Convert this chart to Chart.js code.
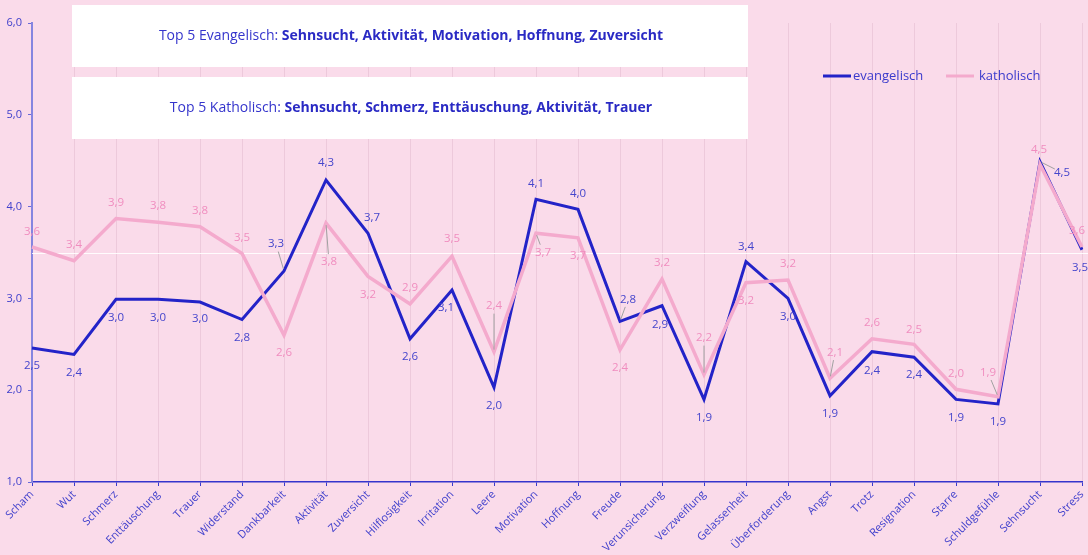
<!DOCTYPE html>
<html><head><meta charset="utf-8">
<script src="https://cdn.jsdelivr.net/npm/chart.js@4/dist/chart.umd.min.js"></script>
<style>html,body{margin:0;padding:0;background:#fadbea;}#wrap{width:1088px;height:555px;}</style>
</head><body><div id="wrap"><canvas id="c" width="1088" height="555"></canvas></div>
<script>
const categories = ["Scham","Wut","Schmerz","Enttäuschung","Trauer","Widerstand","Dankbarkeit","Aktivität","Zuversicht","Hilflosigkeit","Irritation","Leere","Motivation","Hoffnung","Freude","Verunsicherung","Verzweiflung","Gelassenheit","Überforderung","Angst","Trotz","Resignation","Starre","Schuldgefühle","Sehnsucht","Stress"];
const evangelisch = [2.46,2.39,2.99,2.99,2.96,2.77,3.30,4.29,3.71,2.56,3.09,2.03,4.08,3.97,2.75,2.92,1.90,3.40,3.00,1.94,2.42,2.36,1.90,1.85,4.49,3.53];
const katholisch = [3.56,3.41,3.87,3.83,3.78,3.49,2.60,3.82,3.24,2.94,3.46,2.42,3.71,3.66,2.44,3.21,2.17,3.17,3.20,2.13,2.56,2.50,2.01,1.93,4.46,3.56];
const yTicks = [1,2,3,4,5,6];
const seriesNames = ["evangelisch","katholisch"];
const titleLines = [["Top 5 Evangelisch: ","Sehnsucht, Aktivität, Motivation, Hoffnung, Zuversicht"],["Top 5 Katholisch: ","Sehnsucht, Schmerz, Enttäuschung, Aktivität, Trauer"]];

// label placement offsets (dx, dy, leader)
const evLabelPos = [[0,18],[0,18],[0,18],[0,18],[0,17],[0,18],[-8,-27,1],[0,-17],[4,-16],[0,18],[-6,18],[0,18],[0,-16],[0,-16],[8,-22,1],[-2,19],[0,18],[0,-15],[0,18],[0,18],[0,19],[0,18],[0,18],[0,18],[22,11,1],[-2,18]];
const kaLabelPos = [[0,-15],[0,-16],[0,-16],[0,-16],[0,-16],[0,-16],[0,18],[3,39,1],[0,18],[0,-16],[0,-17],[0,-46,1],[7,19,1],[0,18],[0,18],[0,-16],[0,-37,1],[0,18],[0,-16],[5,-26,1],[0,-16],[0,-15],[0,-16],[-10,-24,1],[-1,-15],[-5,-16]];

const BLUE = '#2323c8';
const PINK = '#f4aacd';
const fmt = v => (Math.round(v*10)/10).toFixed(1).replace('.', ',');

const overlay = {
  id:'overlay',
  beforeDatasetsDraw(chart){
    const {ctx, chartArea:a, scales:{y}} = chart;
    ctx.save();
    ctx.strokeStyle = 'rgba(255,255,255,0.9)';
    ctx.lineWidth = 1;
    const yy = Math.round(y.getPixelForValue(3.5))+0.5;
    ctx.beginPath(); ctx.moveTo(a.left, yy); ctx.lineTo(1088, yy); ctx.stroke();
    ctx.restore();
  },
  afterDatasetsDraw(chart){
    const {ctx} = chart;
    ctx.save();
    const boxes = [[72,5,676,62],[72,77,676,62]];
    boxes.forEach((b,i)=>{
      ctx.fillStyle = '#ffffff';
      ctx.fillRect(b[0],b[1],b[2],b[3]);
      const [reg,bold] = titleLines[i];
      ctx.font = '14px "Open Sans"';
      const w1 = ctx.measureText(reg).width;
      ctx.font = 'bold 14px "Open Sans"';
      const w2 = ctx.measureText(bold).width;
      const cx = b[0]+b[2]/2 + 1;
      const x0 = cx - (w1+w2)/2;
      const cy = b[1]+b[3]/2;
      ctx.textBaseline = 'middle'; ctx.textAlign = 'left';
      ctx.fillStyle = '#3535cc';
      ctx.font = '14px "Open Sans"';
      ctx.fillText(reg, x0, cy);
      ctx.fillStyle = '#2a2ac4';
      ctx.font = 'bold 14px "Open Sans"';
      ctx.fillText(bold, x0+w1, cy);
    });
    const leg = [[823,BLUE,seriesNames[0]],[946,PINK,seriesNames[1]]];
    leg.forEach(([x,c,t],i)=>{
      ctx.strokeStyle = c; ctx.lineWidth = 3;
      ctx.beginPath(); ctx.moveTo(x,76); ctx.lineTo(x+28,76); ctx.stroke();
      ctx.fillStyle = '#3a3acc';
      ctx.font = '13px "Open Sans"';
      ctx.textAlign='left'; ctx.textBaseline='middle';
      ctx.fillText(t, x + (i===0?30:33), 76);
    });
    const sets = [[0,evLabelPos,'#4545cc'],[1,kaLabelPos,'#f08dbf']];
    sets.forEach(([di,pos,col])=>{
      const meta = chart.getDatasetMeta(di);
      const data = chart.data.datasets[di].data;
      meta.data.forEach((pt,i)=>{
        const [dx,dy,lead] = pos[i];
        const lx = pt.x+dx, ly = pt.y+dy;
        if(lead){
          ctx.strokeStyle = '#a0a0a0'; ctx.lineWidth = 1;
          const len = Math.hypot(dx,dy);
          const ux = dx/len, uy = dy/len;
          ctx.beginPath();
          ctx.moveTo(pt.x+ux*2, pt.y+uy*2);
          ctx.lineTo(lx-ux*8, ly-uy*8);
          ctx.stroke();
        }
        ctx.fillStyle = col;
        ctx.font = '11.5px "Open Sans"';
        ctx.textAlign='center'; ctx.textBaseline='middle';
        ctx.fillText(fmt(data[i]), lx, ly);
      });
    });
    ctx.restore();
  }
};

new Chart(document.getElementById('c'), {
  type:'line',
  data:{
    labels: categories,
    datasets:[
      {label:seriesNames[0], data:evangelisch, borderColor:BLUE, borderWidth:3, pointRadius:0, tension:0, order:1},
      {label:seriesNames[1], data:katholisch, borderColor:PINK, borderWidth:3.5, pointRadius:0, tension:0, order:0}
    ]
  },
  options:{
    responsive:false, animation:false,
    layout:{padding:{top:23,right:6,left:0,bottom:0}},
    plugins:{legend:{display:false}, tooltip:{enabled:false}},
    scales:{
      x:{
        offset:false,
        grid:{color:'rgba(225,185,205,0.55)', tickColor:'#3a3acc', tickLength:4, drawOnChartArea:true},
        border:{color:'#3535cc', width:1.5},
        ticks:{color:'#4040cc', font:{family:'Open Sans', size:11}, maxRotation:45, minRotation:45, autoSkip:false, padding:2},
        afterFit(s){ s.height = 73; s.paddingRight = 0; }
      },
      y:{
        min:1, max:6,
        afterBuildTicks(s){ s.ticks = yTicks.map(v=>({value:v})); },
        grid:{drawOnChartArea:false, tickLength:4, tickColor:'#6a6ad8'},
        border:{color:'#8585e0', width:2},
        ticks:{color:'#4040cc', font:{family:'Open Sans', size:11}, padding:6, callback:v=>fmt(v)},
        afterFit(s){ s.width = 32; }
      }
    }
  },
  plugins:[overlay]
});
</script></body></html>
